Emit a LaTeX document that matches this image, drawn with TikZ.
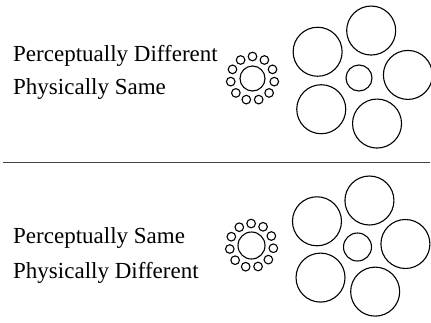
\documentclass[tikz,border=0pt]{standalone}
\usepackage{fontspec}
\setmainfont{Liberation Serif}
\usetikzlibrary{calc}
\begin{document}
\begin{tikzpicture}[x=1pt,y=-1pt,
  ring/.style={draw=black,line width=1.1pt},
  caption/.style={anchor=base west,inner sep=0pt,font=\fontsize{23}{27}\selectfont}]
\useasboundingbox (0,0) rectangle (431,322);

% labels
\node[caption] (pd) at (13,61) {Perceptually Different};
\node[caption] (ps) at (13,94) {Physically Same};
\node[caption] (qs) at (13,243) {Perceptually Same};
\node[caption] (qd) at (13,278) {Physically Different};

% divider
\coordinate (lineL) at (3,162);
\coordinate (lineR) at (430,162);
\draw[line width=0.9pt,black!75] (lineL) -- (lineR);

% upper pair: small surround
\coordinate (ca) at (252.5,78.5);
\draw[ring] (ca) circle[radius=12.5pt];
\foreach \k in {0,...,10}
  \draw[ring] ($(ca)+({90+\k*360/11}:22pt)$) circle[radius=4.3pt];

% upper pair: large surround
\coordinate (cb) at (359,78);
\draw[ring] (cb) circle[radius=13pt];
\foreach \k in {0,...,4}
  \draw[ring] ($(cb)+({3.6+\k*72}:49pt)$) circle[radius=24.5pt];

% lower pair: small surround
\coordinate (cc) at (251.5,245.5);
\draw[ring] (cc) circle[radius=13.5pt];
\foreach \k in {0,...,10}
  \draw[ring] ($(cc)+({91+\k*360/11}:22pt)$) circle[radius=4.3pt];

% lower pair: large surround
\coordinate (cd) at (357.5,247);
\draw[ring] (cd) circle[radius=14pt];
\foreach \k in {0,...,4}
  \draw[ring] ($(cd)+({3.6+\k*72}:48pt)$) circle[radius=24.5pt];
\end{tikzpicture}
\end{document}
